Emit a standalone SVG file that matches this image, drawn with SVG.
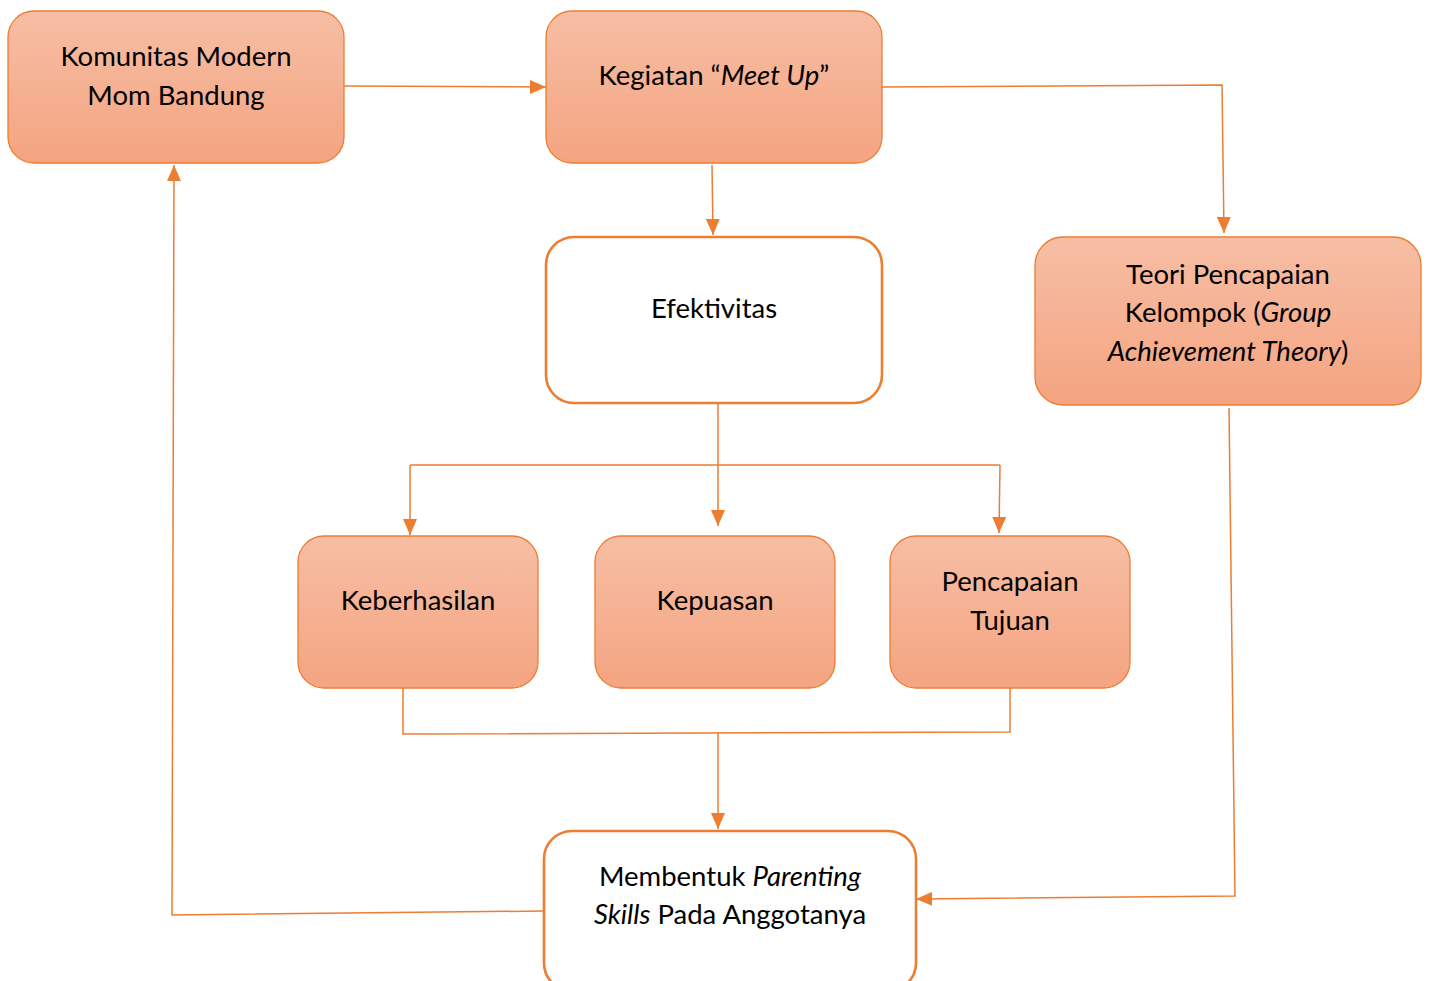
<svg xmlns="http://www.w3.org/2000/svg" width="1431" height="981" viewBox="0 0 1431 981">
<defs>
<linearGradient id="g" x1="0" y1="0" x2="0" y2="1">
<stop offset="0" stop-color="#f7bea4"/>
<stop offset="1" stop-color="#f4a481"/>
</linearGradient>
<marker id="ah" markerWidth="16" markerHeight="14" refX="16" refY="7" orient="auto" markerUnits="userSpaceOnUse">
<path d="M0,0 L16,7 L0,14 Z" fill="#ed7d31"/>
</marker>
<style>
.f{fill:url(#g);stroke:#ed7d31;stroke-width:1.3}
.w{fill:#fff;stroke:#ed7d31;stroke-width:2.6}
.c{fill:none;stroke:#ed7d31;stroke-width:1.5}
.a{marker-end:url(#ah)}
text{font-family:Lato,"Open Sans",sans-serif;font-size:27.5px;fill:#000;text-anchor:middle}
.i{font-style:italic}
</style>
</defs>
<g id="connectors">
<path class="c a" d="M344,86 L546,87"/>
<path class="c a" d="M712,165 L713,235"/>
<path class="c a" d="M882,87 L1222,85 L1224,233"/>
<path class="c a" d="M718,400 L718,526"/>
<path class="c" d="M410,465 L1000,465"/>
<path class="c a" d="M410,465 L410,535"/>
<path class="c a" d="M1000,465 L999,533"/>
<path class="c" d="M403,688 L403,734 L1010,732 L1010,688"/>
<path class="c a" d="M718,733 L718,829"/>
<path class="c a" d="M1229,408 L1235,896 L916,899"/>
<path class="c a" d="M544,911 L172,915 L174,165"/>
</g>
<g id="n1"><rect class="f" x="8" y="11" width="336" height="152" rx="26"/>
<text x="176" y="66">Komunitas Modern</text><text x="176" y="105">Mom Bandung</text></g>
<g id="n2"><rect class="f" x="546" y="11" width="336" height="152" rx="26"/>
<text x="714" y="85">Kegiatan “<tspan class="i">Meet Up</tspan>”</text></g>
<g id="n3"><rect class="w" x="546" y="237" width="336" height="166" rx="28"/>
<text x="714" y="318">Efektivitas</text></g>
<g id="n4"><rect class="f" x="1035" y="237" width="386" height="168" rx="28"/>
<text x="1228" y="284">Teori Pencapaian</text>
<text x="1228" y="322">Kelompok (<tspan class="i">Group</tspan></text>
<text x="1228" y="361"><tspan class="i">Achievement Theory</tspan>)</text></g>
<g id="n5"><rect class="f" x="298" y="536" width="240" height="152" rx="26"/>
<text x="418" y="610">Keberhasilan</text></g>
<g id="n6"><rect class="f" x="595" y="536" width="240" height="152" rx="26"/>
<text x="715" y="610">Kepuasan</text></g>
<g id="n7"><rect class="f" x="890" y="536" width="240" height="152" rx="26"/>
<text x="1010" y="591">Pencapaian</text><text x="1010" y="630">Tujuan</text></g>
<g id="n8"><rect class="w" x="544" y="831" width="372" height="160" rx="28"/>
<text x="730" y="886">Membentuk <tspan class="i">Parenting</tspan></text>
<text x="730" y="924"><tspan class="i">Skills</tspan> Pada Anggotanya</text></g>
</svg>
